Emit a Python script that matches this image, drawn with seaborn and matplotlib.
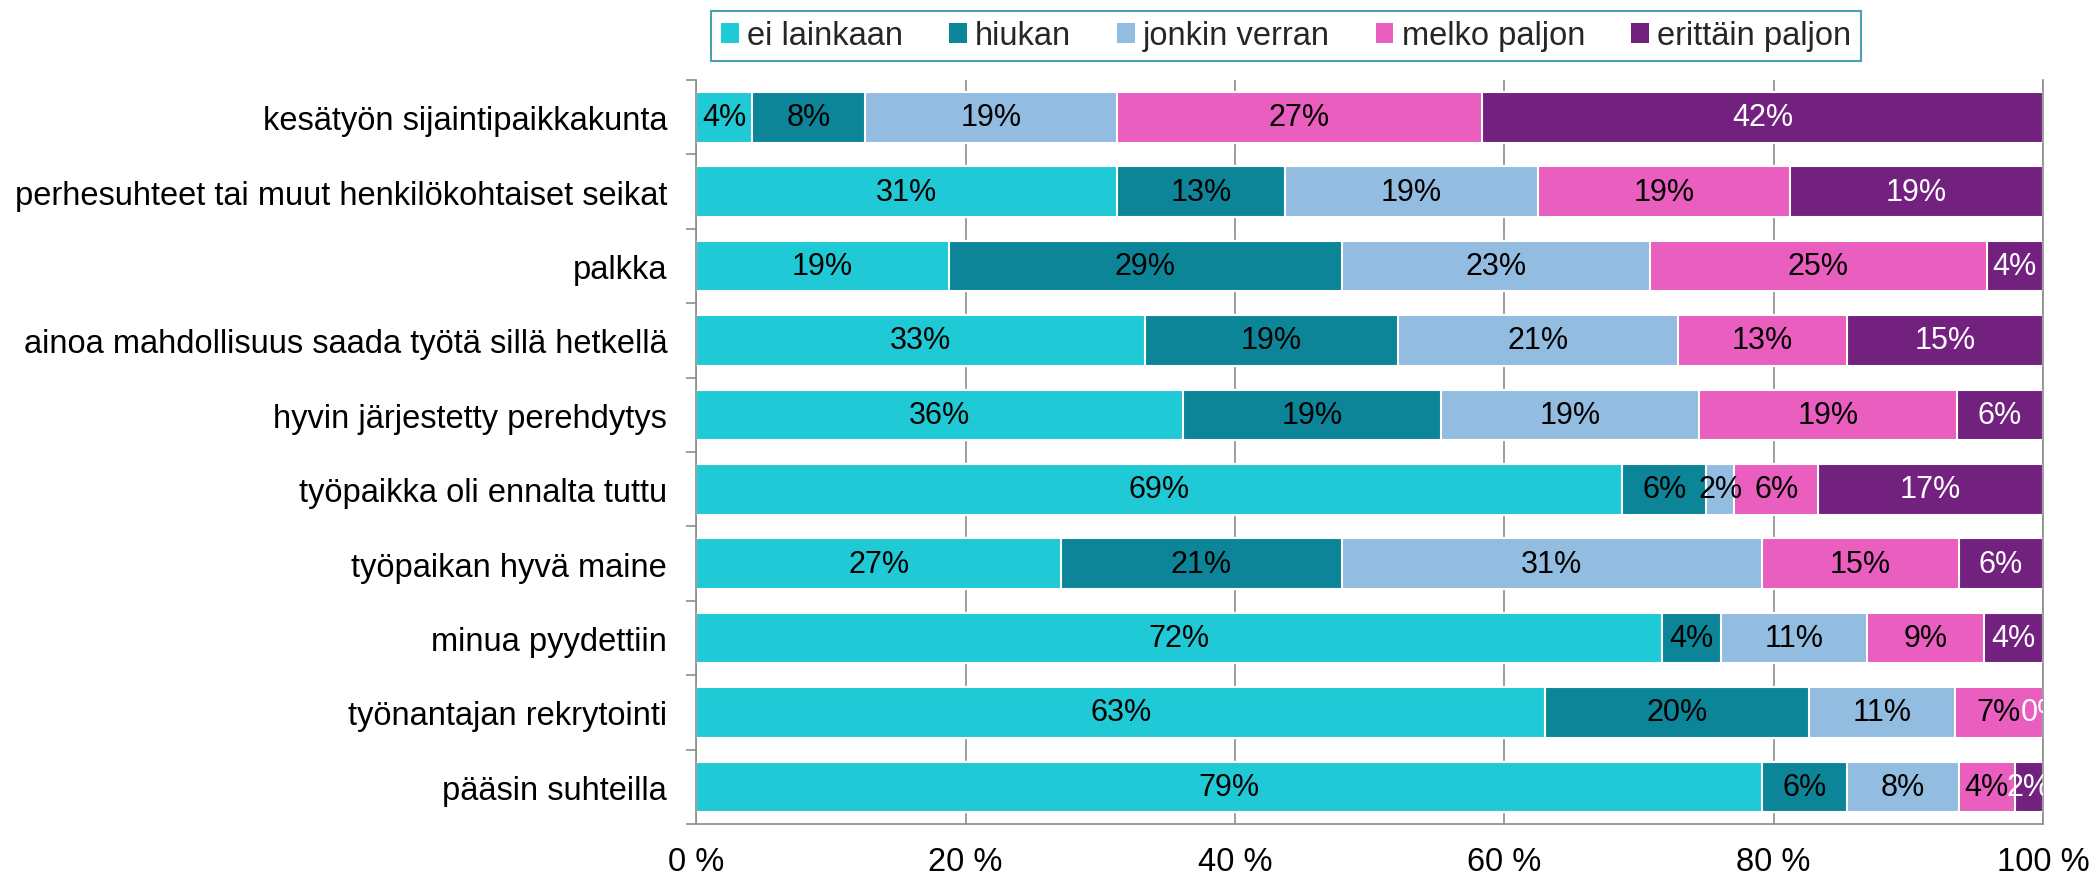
import pandas as pd
import matplotlib.pyplot as plt
from matplotlib.patches import Patch
import seaborn as sns

# Items (top to bottom)
categories = [
    "kesätyön sijaintipaikkakunta",
    "perhesuhteet tai muut henkilökohtaiset seikat",
    "palkka",
    "ainoa mahdollisuus saada työtä sillä hetkellä",
    "hyvin järjestetty perehdytys",
    "työpaikka oli ennalta tuttu",
    "työpaikan hyvä maine",
    "minua pyydettiin",
    "työnantajan rekrytointi",
    "pääsin suhteilla",
]
responses = ["ei lainkaan", "hiukan", "jonkin verran", "melko paljon", "erittäin paljon"]
colors = ["#1FCAD6", "#0C8599", "#93BDE0", "#E95EBE", "#72217F"]

# answer counts per item
ei_lainkaan = [2, 15, 9, 16, 17, 33, 13, 33, 29, 38]
hiukan = [4, 6, 14, 9, 9, 3, 10, 2, 9, 3]
jonkin_verran = [9, 9, 11, 10, 9, 1, 15, 5, 5, 4]
melko_paljon = [13, 9, 12, 6, 9, 3, 7, 4, 3, 2]
erittain_paljon = [20, 9, 2, 7, 3, 8, 3, 2, 0, 1]

df = pd.DataFrame(
    {
        "ei lainkaan": ei_lainkaan,
        "hiukan": hiukan,
        "jonkin verran": jonkin_verran,
        "melko paljon": melko_paljon,
        "erittäin paljon": erittain_paljon,
    },
    index=categories,
)
pct = df.div(df.sum(axis=1), axis=0) * 100
cum = pct.cumsum(axis=1)

sns.set_theme(style="white")
plt.rcParams["font.family"] = ["Liberation Sans", "DejaVu Sans"]

fig, ax = plt.subplots(figsize=(20.91, 8.79), dpi=100)
fig.subplots_adjust(left=0.333, right=0.977, bottom=0.0614, top=0.9078)

# stacked bars: draw cumulative totals from the last answer to the first
for col, color in reversed(list(zip(responses, colors))):
    sns.barplot(x=cum[col].values, y=categories, color=color, orient="h",
                width=0.68, saturation=1, edgecolor="white", linewidth=1.5,
                errorbar=None, ax=ax)

# percentage labels
for i, cat in enumerate(categories):
    for col in responses:
        p = pct.loc[cat, col]
        center = cum.loc[cat, col] - p / 2
        txt_color = "white" if col == "erittäin paljon" else "black"
        ax.text(center, i, f"{int(p + 0.5)}%", ha="center", va="center",
                fontsize=22, color=txt_color, clip_on=True)

ax.set_xlim(0, 100)
ax.set_ylim(len(categories) - 0.5, -0.5)
ax.set_xticks([0, 20, 40, 60, 80, 100])
ax.set_xticklabels([f"{v} %" for v in [0, 20, 40, 60, 80, 100]])
ax.set_xlabel("")
ax.set_ylabel("")
ax.grid(axis="x", color="#8C8C8C", linewidth=1.2)
ax.set_axisbelow(True)

ax.spines["top"].set_visible(False)
for s in ["left", "bottom", "right"]:
    ax.spines[s].set_color("#8C8C8C")
    ax.spines[s].set_linewidth(1.2)

ax.set_yticks([i - 0.5 for i in range(len(categories) + 1)], minor=True)
ax.tick_params(axis="y", which="minor", length=7, width=1.2, color="#8C8C8C", left=True)
ax.tick_params(axis="y", which="major", length=0, pad=21, labelsize=23.5, labelcolor="black")
ax.tick_params(axis="x", length=0, pad=16, labelsize=23.5, labelcolor="black")

handles = [Patch(facecolor=c, edgecolor="none") for c in colors]
leg = fig.legend(handles, responses, loc="center", bbox_to_anchor=(0.615, 0.958),
                 ncol=5, fontsize=23.5, frameon=True, fancybox=False,
                 handlelength=0.55, handleheight=0.6, handletextpad=0.25,
                 columnspacing=1.4, borderpad=0.3, edgecolor="#1B8A9A")
leg.get_frame().set_linewidth(1.5)

plt.savefig("out.png", dpi=100)
